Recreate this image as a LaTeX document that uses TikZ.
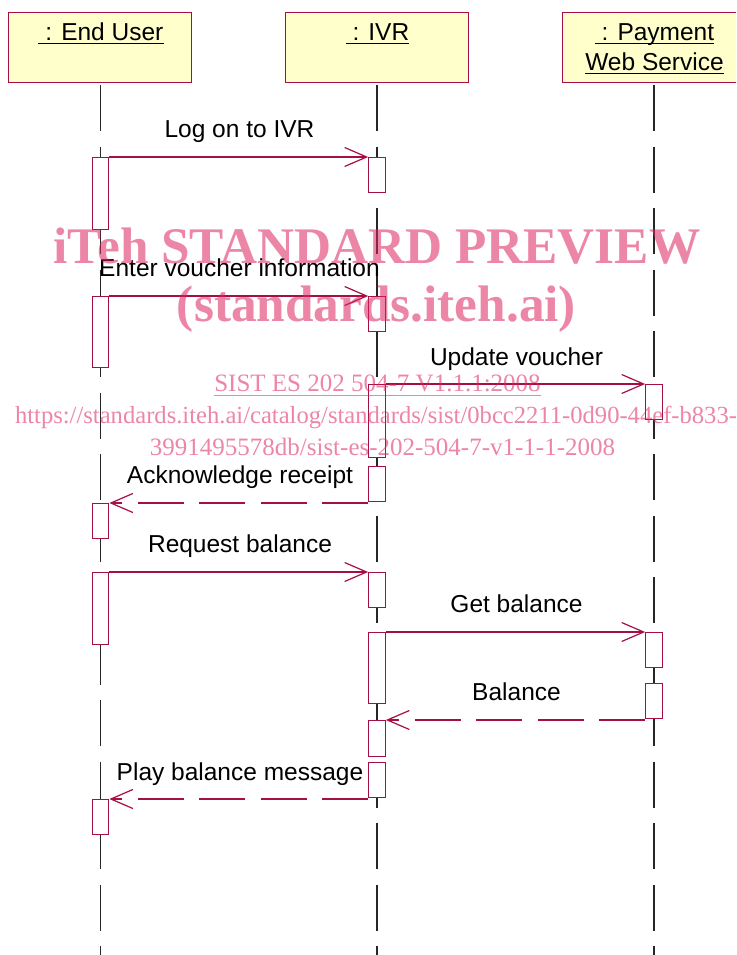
\documentclass[tikz,border=0pt]{standalone}
\usepackage{fontspec}
\setmainfont{Liberation Sans}
\newfontfamily\wmfont{Liberation Serif}
\usetikzlibrary{arrows.meta}
\definecolor{crim}{RGB}{165,15,70}
\definecolor{hdrfill}{RGB}{255,255,204}
\definecolor{wmpink}{RGB}{222,35,95}
\tikzset{
 hdr/.style={draw=crim, fill=hdrfill, line width=1.2pt, minimum width=183pt, minimum height=70pt, inner sep=0pt, anchor=north west},
 act/.style={draw=crim, fill=white, line width=1.2pt, inner sep=0pt, minimum width=16.5pt, anchor=north},
 lifeline/.style={draw=black!85, line width=1.2pt, dash pattern=on 46pt off 15.5pt},
 msg/.style={draw=crim, line width=1.2pt, -{Straight Barb[length=22pt,width=19pt]}},
 ret/.style={msg, dash pattern=on 46pt off 15.5pt},
 lbl/.style={font=\fontsize{24.5}{28}\selectfont, anchor=base, inner sep=0pt},
 uline/.style={draw=black, line width=1.2pt},
 wm/.style={text=wmpink, text opacity=0.55, inner sep=0pt, anchor=base},
}
\begin{document}
\begin{tikzpicture}[x=1pt,y=-1pt]
\useasboundingbox (0,0) rectangle (736,955);
\clip (0,0) rectangle (736,955);
\fill[white] (0,0) rectangle (736,955);

% headers
\node[hdr] (hEU) at (8,12) {};
\node[hdr] (hIVR) at (285,12) {};
\node[hdr] (hPay) at (562,12) {};

\node[lbl] (tEU) at (101,40.5) {\ : End User};
\node[lbl] (tIVR) at (377.5,40.5) {\ : IVR};
\node[lbl] (tPay1) at (654.5,40.5) {\ : Payment\ };
\node[lbl] (tPay2) at (654.5,70.5) {Web Service};
\foreach \n in {tEU,tIVR,tPay1,tPay2}
  \draw[uline] ([yshift=-3pt]\n.base west) -- ([yshift=-3pt]\n.base east);

% lifelines
\coordinate (lEUt) at (100.5,85);  \coordinate (lEUb) at (100.5,955);
\coordinate (lIVt) at (377,85);    \coordinate (lIVb) at (377,955);
\coordinate (lPYt) at (654,85);    \coordinate (lPYb) at (654,955);
\draw[lifeline] (lEUt) -- (lEUb);
\draw[lifeline] (lIVt) -- (lIVb);
\draw[lifeline] (lPYt) -- (lPYb);

% activations End User
\node[act, minimum height=72pt] (e1) at (100.5,157) {};
\node[act, minimum height=71pt] (e2) at (100.5,296) {};
\node[act, minimum height=35pt] (e3) at (100.5,503) {};
\node[act, minimum height=72pt] (e4) at (100.5,572) {};
\node[act, minimum height=35pt] (e5) at (100.5,799) {};
% activations IVR
\node[act, minimum height=35pt] (i1) at (377,157) {};
\node[act, minimum height=35pt] (i2) at (377,296) {};
\node[act, minimum height=73pt] (i3) at (377,384) {};
\node[act, minimum height=35pt] (i4) at (377,466) {};
\node[act, minimum height=35pt] (i5) at (377,572) {};
\node[act, minimum height=71pt] (i6) at (377,632) {};
\node[act, minimum height=36pt] (i7) at (377,720) {};
\node[act, minimum height=35pt] (i8) at (377,762) {};
% activations Payment
\node[act, minimum height=35pt] (p1) at (654,384) {};
\node[act, minimum height=35pt] (p2) at (654,632) {};
\node[act, minimum height=35pt] (p3) at (654,683) {};

% messages
\draw[msg] (e1.north east) -- (i1.north west);
\node[lbl] (m1) at (239.5,138) {Log on to IVR};
\draw[msg] (e2.north east) -- (i2.north west);
\node[lbl] (m2) at (239.5,276.5) {Enter voucher information};
\draw[msg] (i3.north east) -- (p1.north west);
\node[lbl] (m3) at (516.5,365) {Update voucher};
\draw[ret] (e3.north east -| i4.west) -- (e3.north east);
\node[lbl] (m4) at (240,483.5) {Acknowledge receipt};
\draw[msg] (e4.north east) -- (i5.north west);
\node[lbl] (m5) at (240,552) {Request balance};
\draw[msg] (i6.north east) -- (p2.north west);
\node[lbl] (m6) at (516.5,612.5) {Get balance};
\draw[ret] (i7.north east -| p3.west) -- (i7.north east);
\node[lbl] (m7) at (516.5,700.5) {Balance};
\draw[ret] (e5.north east -| i8.west) -- (e5.north east);
\node[lbl] (m8) at (240,780) {Play balance message};

% watermark
\node[wm, font=\wmfont\bfseries\fontsize{51.3}{56}\selectfont] (w1) at (377,263) {iTeh STANDARD PREVIEW};
\node[wm, font=\wmfont\bfseries\fontsize{51.3}{56}\selectfont] (w2) at (376.5,321) {(standards.iteh.ai)};
\node[wm, font=\wmfont\fontsize{25}{28}\selectfont] (w3) at (377.5,391.5) {SIST ES 202 504-7 V1.1.1:2008};
\draw[draw=wmpink, draw opacity=0.55, line width=1pt] ([yshift=-3.5pt]w3.base west) -- ([yshift=-3.5pt]w3.base east);
\node[wm, font=\wmfont\fontsize{24.6}{28}\selectfont] (w4) at (376,423) {https://standards.iteh.ai/catalog/standards/sist/0bcc2211-0d90-44ef-b833-};
\node[wm, font=\wmfont\fontsize{25}{28}\selectfont] (w5) at (382.5,455) {3991495578db/sist-es-202-504-7-v1-1-1-2008};
\end{tikzpicture}
\end{document}
